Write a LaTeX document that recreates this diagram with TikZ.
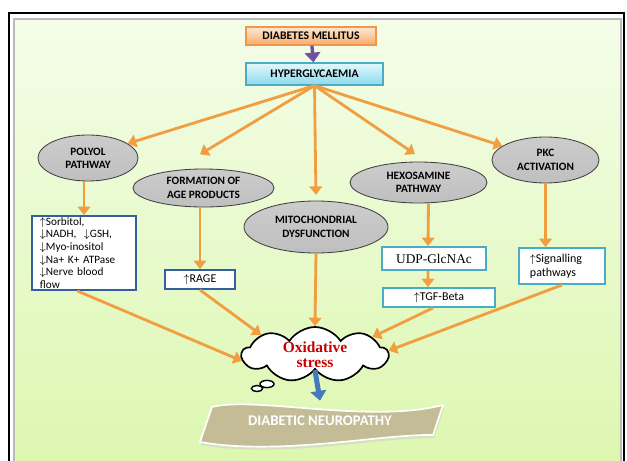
\documentclass[tikz,border=0pt]{standalone}
\usepackage{fontspec}
\setmainfont{Carlito}
\newfontfamily\timesfont{Liberation Serif}
\usetikzlibrary{arrows.meta,shapes.geometric,shapes.symbols,calc}
\definecolor{bgtop}{RGB}{244,253,233}
\definecolor{bgbot}{RGB}{221,247,176}
\definecolor{dmtop}{RGB}{253,233,214}
\definecolor{dmbot}{RGB}{248,170,105}
\definecolor{dmline}{RGB}{244,150,70}
\definecolor{hytop}{RGB}{226,248,252}
\definecolor{hybot}{RGB}{140,218,238}
\definecolor{tealline}{RGB}{75,172,198}
\definecolor{blueline}{RGB}{50,95,160}
\definecolor{arrorange}{RGB}{240,158,64}
\definecolor{arrpurple}{RGB}{112,80,160}
\definecolor{arrblue}{RGB}{70,120,190}
\definecolor{stressred}{RGB}{200,0,0}
\definecolor{tan}{RGB}{196,188,150}

\begin{document}
\begin{tikzpicture}[x=0.025cm, y=-0.025cm, arr/.style={-{Triangle[length=6pt,width=9pt]}, line width=2pt, arrorange}, head/.style={font=\fontsize{8.3}{10}\selectfont\bfseries, line width=0.8pt, inner sep=0pt}, bubble/.style={ellipse, draw=black!75, line width=0.6pt, top color=gray!40, middle color=gray!5, bottom color=gray!50, inner sep=0pt, align=center, font=\fontsize{8}{9.5}\selectfont\bfseries}, bluebox/.style={draw=blueline, line width=1.4pt, fill=white, font=\fontsize{8}{9}\selectfont}, tealbox/.style={draw=tealline, line width=1.4pt, fill=white, font=\fontsize{8.5}{10}\selectfont}, puff/.style={ellipse, draw, line width=1pt, fill=white, inner sep=0pt}]
\useasboundingbox (0,0) rectangle (627,461);
\fill[white] (0,0) rectangle (627,461);
\shade[top color=bgtop, bottom color=bgbot] (14,19) rectangle (621,461);
\draw[gray!55, line width=0.8pt] (14,461) -- (14,19) -- (621,19) -- (621,461);
\draw[line width=1.8pt] (9,461) -- (9,13) -- (624,13) -- (624,461);
\node[head, draw=dmline, top color=dmtop, bottom color=dmbot, minimum width=3.25cm, minimum height=0.45cm] (dm) at (311,36) {DIABETES MELLITUS};
\node[head, draw=tealline, top color=hytop, bottom color=hybot, minimum width=3.425cm, minimum height=0.55cm] (hy) at (314.5,74) {HYPERGLYCAEMIA};
\node[bubble, minimum width=2.5cm, minimum height=1.15cm] (po) at (88,158) {POLYOL\\PATHWAY};
\node[bubble, minimum width=3.525cm, minimum height=0.95cm] (ag) at (203.5,188) {FORMATION OF\\AGE PRODUCTS};
\node[bubble, minimum width=3.6cm, minimum height=1.3cm] (mi) at (316,227) {MITOCHONDRIAL\\DYSFUNCTION};
\node[bubble, minimum width=3.425cm, minimum height=1.025cm] (hx) at (418.5,182.5) {HEXOSAMINE\\PATHWAY};
\node[bubble, minimum width=2.675cm, minimum height=1.15cm] (pk) at (545.5,160) {PKC\\ACTIVATION};
\node[bluebox, anchor=north west, text width=2.2cm, inner xsep=0.2cm, inner ysep=1pt, align=left] (pb) at (31,215) {$\uparrow$Sorbitol,\\$\downarrow$NADH,\ \ $\downarrow$GSH,\\$\downarrow$Myo-inositol\\$\downarrow$Na+ K+ ATPase\\$\downarrow$Nerve blood\\flow};
\node[bluebox, minimum width=1.75cm, minimum height=0.475cm, inner sep=0pt, font=\fontsize{8.5}{10}\selectfont] (rg) at (200,279.5) {$\uparrow$RAGE};
\node[tealbox, minimum width=2.6cm, minimum height=0.575cm, inner sep=0pt, font=\timesfont\fontsize{9.5}{11}\selectfont] (ud) at (434,258.5) {UDP-GlcNAc};
\node[tealbox, minimum width=2.8cm, minimum height=0.475cm, inner sep=0pt] (tg) at (439,297.5) {$\uparrow$TGF-Beta};
\node[tealbox, anchor=north west, text width=1.6cm, inner xsep=0.275cm, minimum height=0.9cm, align=left] (sg) at (518,247) {$\uparrow$Signalling\\pathways};
\node[cloud, cloud puffs=9, cloud puff arc=115, cloud ignores aspect, draw, line width=1.2pt, fill=white, minimum width=3.65cm, minimum height=1.375cm, inner sep=0pt, align=center, text=stressred, font=\timesfont\bfseries\fontsize{11}{11}\selectfont] (ox) at (315,354.5) {Oxidative\\stress};
\node[puff, minimum width=0.35cm, minimum height=0.18cm] (p1) at (267,384) {};
\node[puff, minimum width=0.28cm, minimum height=0.15cm] (p2) at (257,388.5) {};
\fill[gray!40, opacity=0.5] (213,410) .. controls (256,399) and (371,427) .. (444,408) -- (434,438) .. controls (381,437) and (281,459) .. (201,445) -- cycle;
\filldraw[fill=tan, draw=white, line width=1.2pt] (212,407) .. controls (255,396) and (370,424) .. (443,405) -- (433,435) .. controls (380,434) and (280,456) .. (200,442) -- cycle;
\node[text=white, font=\fontsize{10.5}{12}\selectfont\bfseries, minimum width=5.5cm, minimum height=1cm] (dn) at (320,421) {DIABETIC NEUROPATHY};
\draw[-{Triangle[length=7pt,width=11pt]}, line width=2.4pt, arrpurple] (dm) -- (hy);
\draw[arr] (hy.south) -- (po.20);
\draw[arr] (hy.south) -- ($(hy.south)!0.81!(ag.150)$);
\draw[arr] (hy.south) -- ($(hy.south)!0.95!(mi.north)$);
\draw[arr] (hy.south) -- ($(hy.south)!0.9!(hx.70)$);
\draw[arr] (hy.south) -- (pk.162);
\draw[arr] (pb.north |- po.south) -- (pb.north);
\draw[arr] (rg.north |- ag.south) -- (rg.north);
\draw[arr] ([xshift=0.25cm]hx.south) -- ([xshift=-0.15cm]ud.north);
\draw[arr] ([xshift=-0.15cm]ud.south) -- ([xshift=-0.275cm]tg.north);
\draw[arr] (pk.south) -- (pk.south |- sg.north);
\draw[arr] (pb.-100) -- (ox.185);
\draw[arr] (rg.south) -- (ox.160);
\draw[arr] (mi.south) -- (ox.north);
\draw[arr] (tg.-120) -- (ox.17);
\draw[arr] (sg.south) -- (ox.3);
\draw[-{Triangle[length=7pt,width=11pt]}, line width=3.6pt, arrblue] (ox.south) -- (dn.north);
\end{tikzpicture}
\end{document}
